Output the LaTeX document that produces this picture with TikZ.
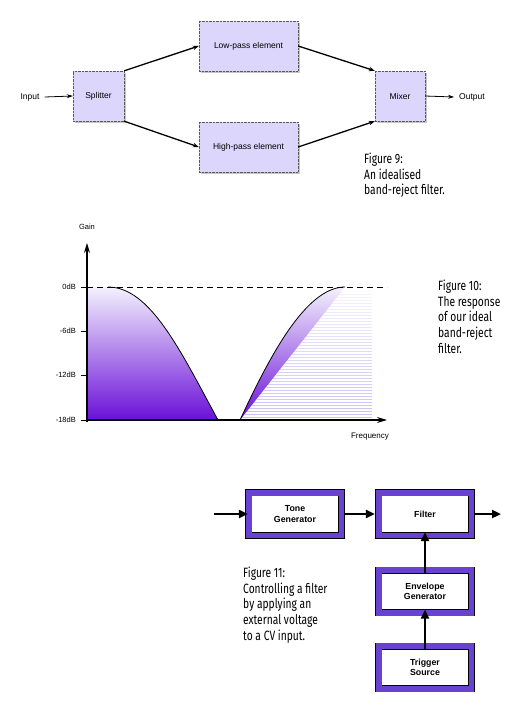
\documentclass[tikz,border=0pt]{standalone}
\usepackage{fontspec}
\setmainfont{Liberation Sans}
\newfontfamily\capfont[FakeStretch=0.76]{Fira Sans}
\usetikzlibrary{arrows.meta,shadows}
\definecolor{lavender}{HTML}{DCD5FC}
\definecolor{frameviolet}{HTML}{6A42D2}
\definecolor{gaintop}{HTML}{F4F1FD}
\definecolor{gainbot}{HTML}{6A10D8}
\definecolor{hatch}{HTML}{A898EE}
\begin{document}
\begin{tikzpicture}[x=1pt, y=-1pt,
    block/.style={draw=gray!70!black, densely dotted, fill=lavender, minimum height=50pt,
                  inner sep=0pt, font=\fontsize{8.5}{10}\selectfont,
                  drop shadow={shadow xshift=1.5pt, shadow yshift=-1.5pt, fill=gray!45, opacity=1}},
    thinarr/.style={-{Stealth[length=6pt,width=4pt]}, line width=0.8pt},
    diagarr/.style={-{Stealth[length=6pt,width=4.5pt]}, line width=1.3pt},
    unit/.style={draw=black, line width=0.6pt, double=frameviolet, double distance=5.8pt,
                 fill=white, minimum width=92.8pt, minimum height=42.8pt, inner sep=0pt,
                 align=center, font=\bfseries\fontsize{8.8}{10.5}\selectfont},
    fatarr/.style={-{Triangle[length=9pt,width=8pt]}, line width=2.2pt},
    caption/.style={align=left, anchor=north west, inner sep=0pt,
                    font=\capfont\fontsize{13.5}{15.6}\selectfont},
    axlabel/.style={font=\fontsize{7.5}{9}\selectfont, inner sep=0pt}
  ]
    \useasboundingbox (0,0) rectangle (530,713);

    \node[font=\fontsize{8.5}{10}\selectfont, inner sep=0pt] (in) at (30,97) {Input};
    \node[block, minimum width=51pt] (split) at (98.5,96) {Splitter};
    \node[block, minimum width=99pt] (low)   at (248.5,46) {Low-pass element};
    \node[block, minimum width=99pt] (high)  at (248.5,147) {High-pass element};
    \node[block, minimum width=50pt] (mix)   at (400,96) {Mixer};
    \node[font=\fontsize{8.5}{10}\selectfont, inner sep=0pt] (out) at (472,97) {Output};

    \draw[thinarr] (in.east) ++(5,0) -- (split.west);
    \draw[diagarr] (split.north east) -- (low.west);
    \draw[diagarr] (split.south east) -- (high.west);
    \draw[diagarr] (low.east) -- (mix.north west);
    \draw[diagarr] (high.east) -- (mix.south west);
    \draw[thinarr] (mix.east) -- ([xshift=-5pt]out.west);
    \node[caption] (cap9) at (364,153) {Figure 9:\\An idealised\\band-reject filter.};

    \shade[top color=gaintop, bottom color=gainbot]
      (87,287) -- (108,287) .. controls (150,287) and (180,350) .. (218,420) -- (87,420) -- cycle;
    \foreach \y in {294,297,...,418} {
      \pgfmathsetmacro{\xs}{240+(420-\y)*105/133}
      \pgfmathsetmacro{\op}{0.12+0.5*(\y-294)/124}
      \draw[hatch, line width=0.5pt, opacity=\op] (\xs,\y) -- (372,\y);
    }
    \shade[top color=gaintop, bottom color=gainbot]
      (240,420) .. controls (268,360) and (305,287) .. (345,287) -- cycle;
    \draw[dash pattern=on 6pt off 4pt, line width=0.6pt] (87,287) -- (387,287);
    \draw[line width=0.8pt] (108,287) .. controls (150,287) and (180,350) .. (218,420)
      -- (240,420) .. controls (268,360) and (305,287) .. (345,287);
    \draw[-{Stealth[length=10pt,width=6pt]}, line width=1.1pt] (87,422) -- (87,243);
    \draw[-{Stealth[length=10pt,width=6pt]}, line width=1.1pt] (86,420) -- (387,420);
    \foreach \y/\lbl in {287/0dB, 331/-6dB, 375/-12dB, 420/-18dB} {
      \draw[line width=0.8pt] (81,\y) -- (87,\y);
      \node[axlabel, anchor=east] at (76,\y) {\lbl};
    }
    \node[axlabel] (gain) at (87,227) {Gain};
    \node[axlabel, font=\fontsize{8}{9}\selectfont] (freq) at (370,437) {Frequency};
    \node[caption] (cap10) at (438,280) {Figure 10:\\The response\\of our ideal\\band-reject\\filter.};

    \node[unit] (tone)   at (295,514)   {Tone\\Generator};
    \node[unit] (filter) at (425,514)   {Filter};
    \node[unit] (env)    at (425,591.5) {Envelope\\Generator};
    \node[unit] (trig)   at (425,667.5) {Trigger\\Source};
    \coordinate (src)  at (214,514);
    \coordinate (sink) at (501,514);

    \draw[fatarr] (src) -- ([xshift=-0.5pt]tone.west);
    \draw[fatarr] ([xshift=3.5pt]tone.east) -- ([xshift=-3.5pt]filter.west);
    \draw[fatarr] ([xshift=3.5pt]filter.east) -- (sink);
    \draw[fatarr] ([yshift=-3.5pt]env.north) -- ([yshift=3.5pt]filter.south);
    \draw[fatarr] ([yshift=-3.5pt]trig.north) -- ([yshift=3.5pt]env.south);
    \node[caption] (cap11) at (243,567) {Figure 11:\\Controlling a filter\\by applying an\\external voltage\\to a CV input.};
  \end{tikzpicture}
\end{document}
